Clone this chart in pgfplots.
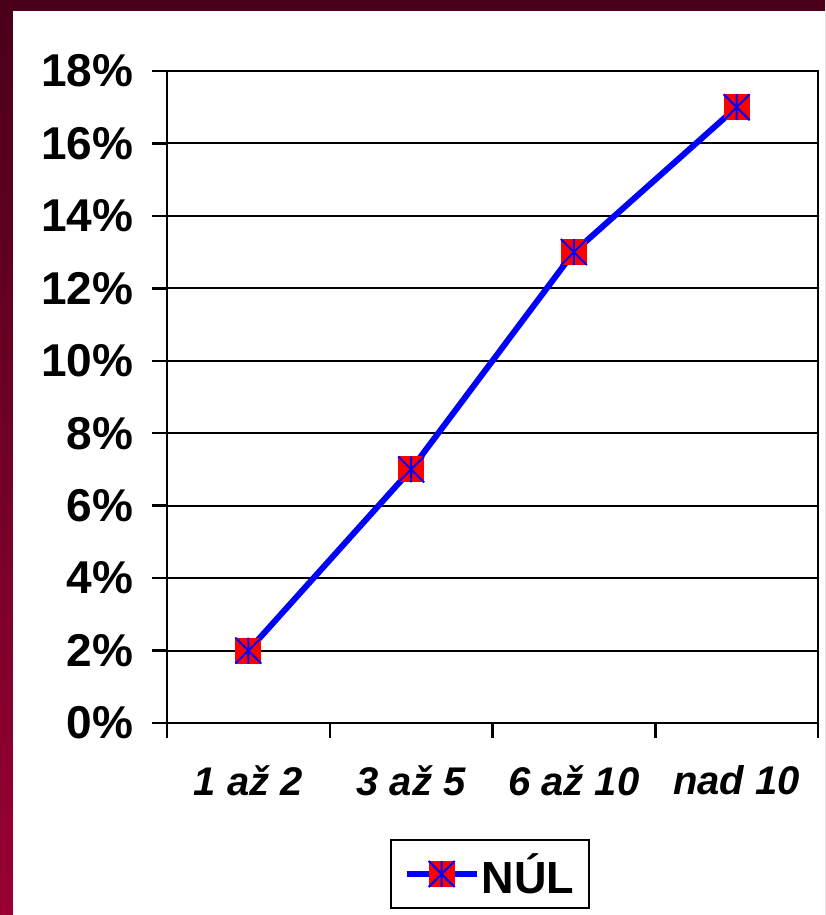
\documentclass[border=0pt]{standalone}
\usepackage{pgfplots}
\pgfplotsset{compat=1.18}
\usepackage{fontspec}
\setmainfont{Liberation Sans}
\definecolor{bgtop}{RGB}{74,0,26}
\definecolor{bgbot}{RGB}{153,0,51}
\pgfdeclareplotmark{xlstar}{%
  \pgfpathrectangle{\pgfpoint{-\pgfplotmarksize}{-\pgfplotmarksize}}{\pgfpoint{2\pgfplotmarksize}{2\pgfplotmarksize}}%
  \pgfsetfillcolor{red}\pgfusepath{fill}%
  \pgfsetstrokecolor{blue}\pgfsetlinewidth{2pt}%
  \pgfpathmoveto{\pgfpoint{-\pgfplotmarksize}{-\pgfplotmarksize}}%
  \pgfpathlineto{\pgfpoint{\pgfplotmarksize}{\pgfplotmarksize}}%
  \pgfpathmoveto{\pgfpoint{-\pgfplotmarksize}{\pgfplotmarksize}}%
  \pgfpathlineto{\pgfpoint{\pgfplotmarksize}{-\pgfplotmarksize}}%
  \pgfpathmoveto{\pgfpoint{0pt}{-\pgfplotmarksize}}%
  \pgfpathlineto{\pgfpoint{0pt}{\pgfplotmarksize}}%
  \pgfusepath{stroke}%
}
\begin{document}
\begin{tikzpicture}
\useasboundingbox (0,0) rectangle (825pt,915pt);
\shade[top color=bgtop,bottom color=bgbot] (0,0) rectangle (825pt,915pt);
\fill[white] (13pt,0) rectangle (825pt,904pt);
\begin{axis}[
  at={(167pt,192pt)}, anchor=south west,
  scale only axis, width=651pt, height=652pt,
  xmin=0, xmax=4, ymin=0, ymax=18,
  axis line style={line width=2.5pt},
  ymajorgrids, grid style={black, line width=2pt},
  tick align=outside, tick pos=left,
  major tick length=15pt,
  every tick/.style={black, line width=2.5pt},
  xtick={0,1,2,3,4}, xticklabels={},
  extra x ticks={0.5,1.5,2.5,3.5},
  extra x tick labels={1 až 2,3 až 5,6 až 10,nad 10},
  extra x tick style={major tick length=0pt},
  ytick={0,2,...,18},
  yticklabels={0\%,2\%,4\%,6\%,8\%,10\%,12\%,14\%,16\%,18\%},
  /pgf/number format/assume math mode=true,
  yticklabel style={font=\fontsize{46}{50}\selectfont\bfseries, xshift=-15pt},
  xticklabel style={font=\fontsize{40}{44}\selectfont\bfseries\itshape, yshift=-39pt},
  legend style={at={(0.496,-0.2316)}, anchor=center, draw=black, line width=2pt,
    font=\fontsize{45}{50}\selectfont\bfseries, inner xsep=13pt, inner ysep=11pt},
  legend image code/.code={\draw[mark repeat=2,mark phase=2,#1] plot coordinates {(0pt,0pt) (35pt,0pt) (70pt,0pt)};},
]
\addplot[blue, line width=6pt, mark=xlstar, mark size=13pt] coordinates {(0.5,2) (1.5,7) (2.5,13) (3.5,17)};
\addlegendentry{NÚL}
\end{axis}
\end{tikzpicture}
\end{document}
